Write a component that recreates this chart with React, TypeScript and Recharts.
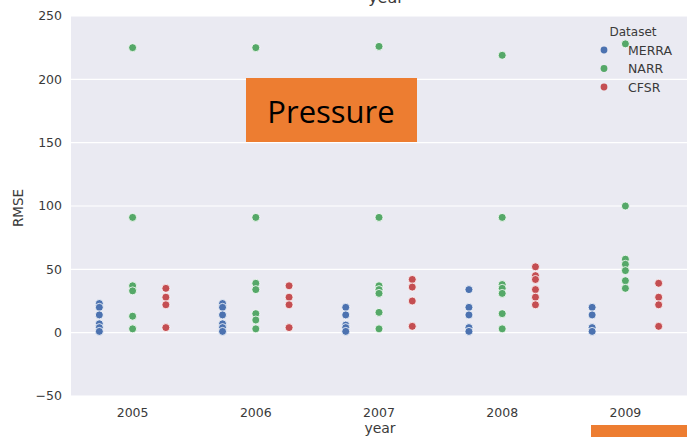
import React from 'react';
import { ScatterChart, Scatter, XAxis, YAxis, CartesianGrid, Legend } from 'recharts';

const years = ['2005', '2006', '2007', '2008', '2009'];
const yTicks = [-50, 0, 50, 100, 150, 200, 250];

// RMSE values per year (one inner list per year)
const merraValues = [
  [23, 20, 14, 7, 4, 1],
  [23, 20, 14, 7, 4, 1],
  [20, 14, 6, 4, 1],
  [34, 20, 14, 4, 1],
  [20, 14, 4, 1],
];
const narrValues = [
  [225, 91, 37, 33, 13, 3],
  [225, 91, 39, 34, 15, 10, 3],
  [226, 91, 37, 34, 31, 16, 3],
  [219, 91, 38, 35, 31, 15, 3],
  [228, 100, 58, 54, 49, 41, 35],
];
const cfsrValues = [
  [35, 28, 22, 4],
  [37, 28, 22, 4],
  [42, 36, 25, 5],
  [52, 45, 42, 34, 28, 22],
  [39, 28, 22, 5],
];

const datasetNames = ['MERRA', 'NARR', 'CFSR'];
const datasetColors = ['#4C72B0', '#55A868', '#C44E52'];
const dodgeOffsets = [-0.27, 0, 0.27];

const FONT = '"DejaVu Sans", sans-serif';
const TEXT_COLOR = '#3a3a3a';

function toPoints(values: number[][], offset: number) {
  return values.flatMap((vals, i) => vals.map((v) => ({ x: i + offset, y: v })));
}

const seriesData = [merraValues, narrValues, cfsrValues].map((vals, k) => toPoints(vals, dodgeOffsets[k]));

const makeDot = (color: string) => (props: any) => {
  const { cx, cy } = props;
  if (cx == null || cy == null) return <g />;
  return <circle cx={cx} cy={cy} r={4} fill={color} stroke="#ffffff" strokeWidth={0.8} />;
};

const renderLegend = () => (
  <svg width={91} height={80} style={{ display: 'block' }}>
    <text x={37} y={15.5} textAnchor="middle" fontFamily={FONT} fontSize={12} fill={TEXT_COLOR}>
      Dataset
    </text>
    {datasetNames.map((name, i) => (
      <g key={name}>
        <circle cx={8} cy={30 + i * 18.5} r={3.4} fill={datasetColors[i]} />
        <text x={32} y={30 + i * 18.5 + 4.5} fontFamily={FONT} fontSize={12.5} fill={TEXT_COLOR}>
          {name}
        </text>
      </g>
    ))}
  </svg>
);

export default function App() {
  return (
    <div style={{ position: 'absolute', left: 0, top: 0, width: 687, height: 437, background: '#ffffff', overflow: 'hidden' }}>
      <ScatterChart width={687} height={437} margin={{ top: 16, right: 0, bottom: 0, left: 0 }}>
        <CartesianGrid vertical={false} stroke="#ffffff" strokeWidth={1.2} fill="#EAEAF2" fillOpacity={1} />
        <XAxis
          type="number"
          dataKey="x"
          domain={[-0.5, 4.5]}
          ticks={[0, 1, 2, 3, 4]}
          tickFormatter={(i: number) => years[i]}
          axisLine={false}
          tickLine={false}
          tickSize={0}
          tickMargin={12}
          height={41}
          interval={0}
          tick={{ fontFamily: FONT, fontSize: 12.5, fill: TEXT_COLOR }}
        />
        <YAxis
          type="number"
          dataKey="y"
          domain={[-50, 250]}
          ticks={yTicks}
          tickFormatter={(v: number) => (v < 0 ? '\u2212' + Math.abs(v) : String(v))}
          axisLine={false}
          tickLine={false}
          tickSize={0}
          tickMargin={9}
          width={71}
          interval={0}
          tick={{ fontFamily: FONT, fontSize: 12.5, fill: TEXT_COLOR }}
        />
        {seriesData.map((data, k) => (
          <Scatter
            key={datasetNames[k]}
            name={datasetNames[k]}
            data={data}
            fill={datasetColors[k]}
            shape={makeDot(datasetColors[k])}
            isAnimationActive={false}
          />
        ))}
        <Legend
          layout="horizontal"
          verticalAlign="middle"
          align="center"
          content={renderLegend}
          wrapperStyle={{ position: 'absolute', top: 20, left: 596, width: 91, height: 80 }}
        />
      </ScatterChart>

      <svg width={687} height={437} style={{ position: 'absolute', left: 0, top: 0, pointerEvents: 'none' }}>
        <text x={18} y={208} transform="rotate(-90 18 208)" textAnchor="middle" dominantBaseline="central" fontFamily={FONT} fontSize={13.5} fill={TEXT_COLOR}>
          RMSE
        </text>
        <text x={380} y={433} textAnchor="middle" fontFamily={FONT} fontSize={14} fill={TEXT_COLOR}>
          year
        </text>
        <text x={386} y={2.5} textAnchor="middle" fontFamily={FONT} fontSize={16} fill={TEXT_COLOR}>
          year
        </text>
        <rect x={246} y={78} width={171} height={64} fill="#ED7D31" />
        <text x={331} y={123} textAnchor="middle" fontFamily='"Open Sans", sans-serif' fontSize={31} fill="#000000">
          Pressure
        </text>
        <rect x={591} y={425} width={96} height={12} fill="#ED7D31" />
      </svg>
    </div>
  );
}
